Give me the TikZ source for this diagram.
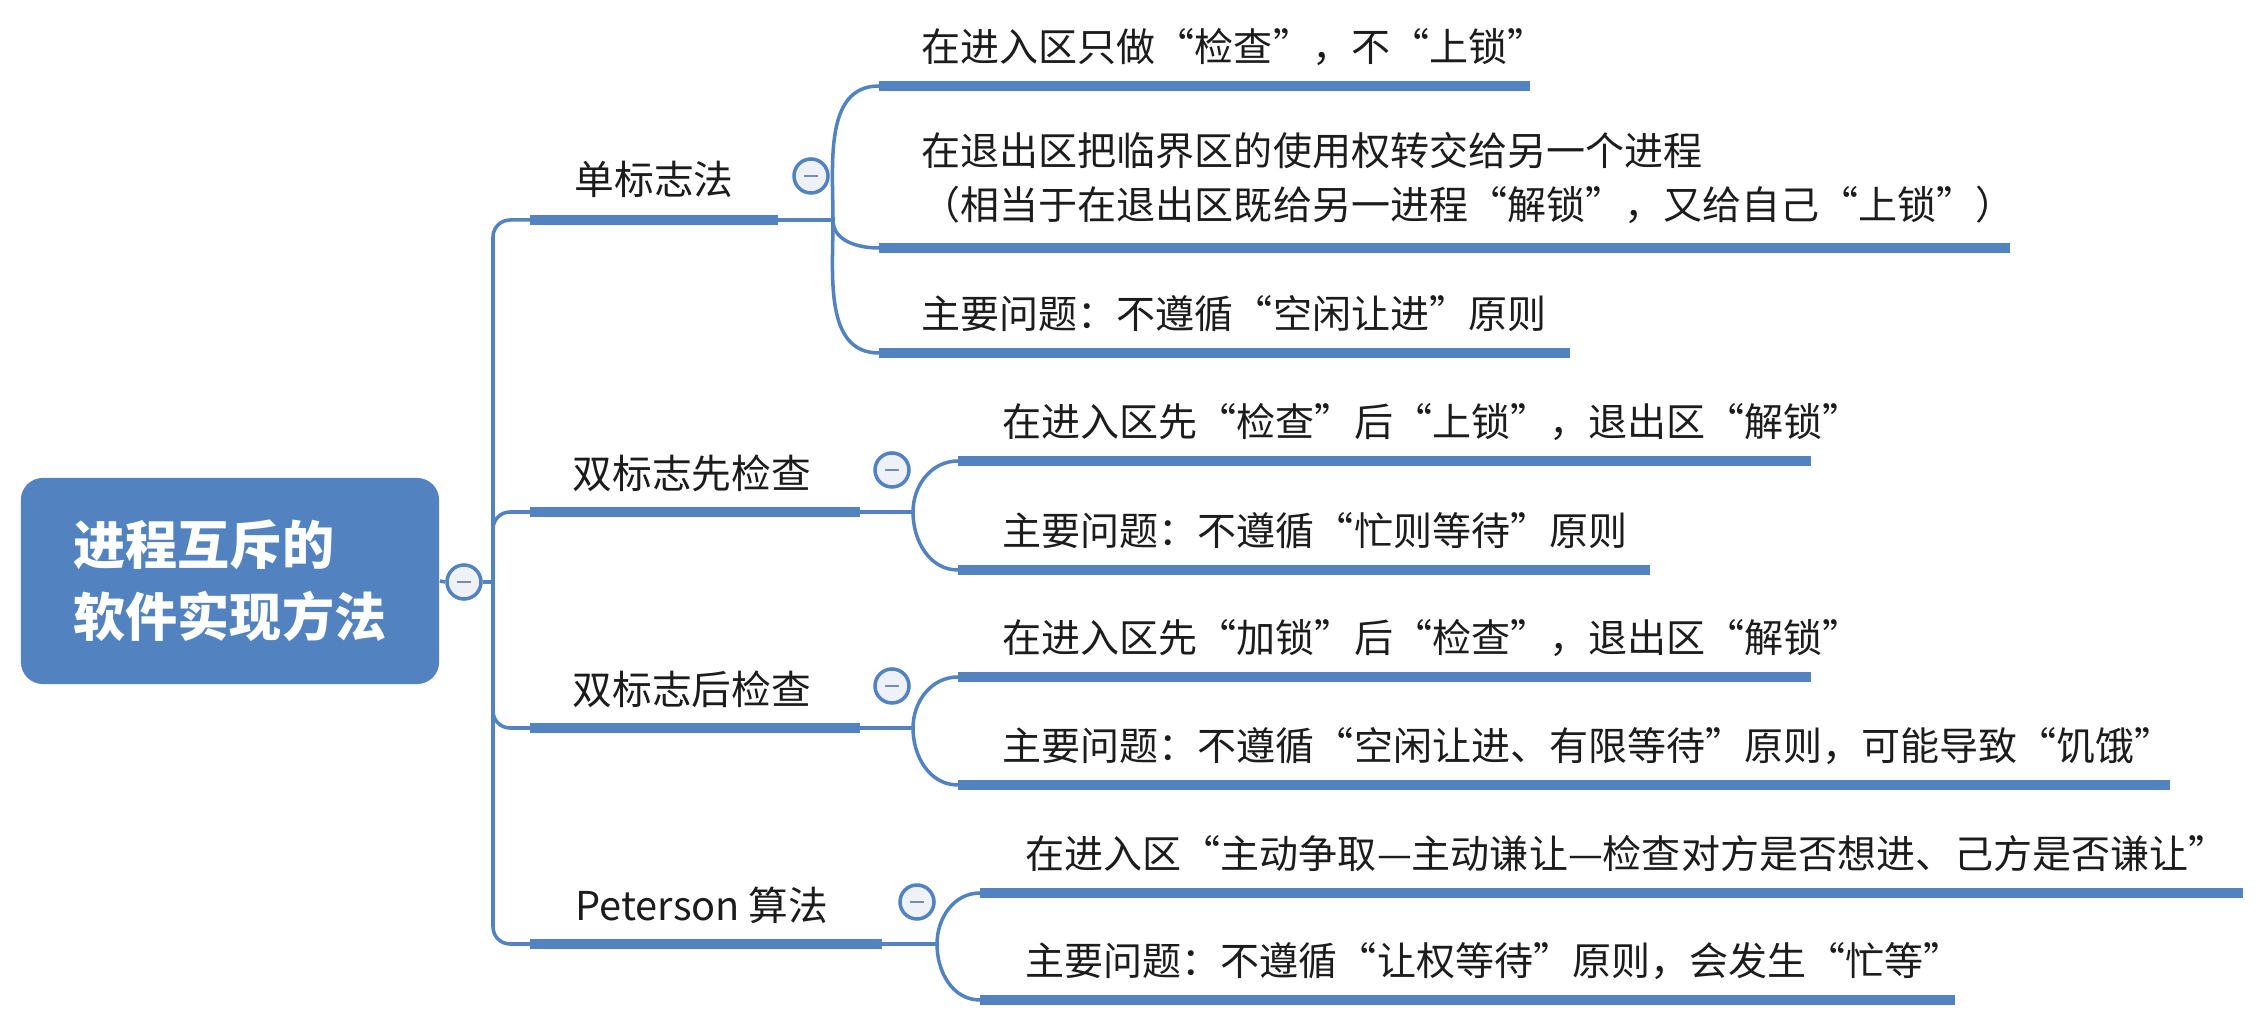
\documentclass[tikz,border=0pt]{standalone}
\usepackage{fontspec}
\setmainfont{Noto Sans CJK SC}
\usetikzlibrary{positioning}

\definecolor{mapblue}{RGB}{82,131,192}
\definecolor{knobfill}{RGB}{238,242,248}
\definecolor{knobdash}{RGB}{120,140,170}
\definecolor{inkgray}{RGB}{28,28,28}

\tikzset{
  link/.style={draw=mapblue, line width=1pt},
  bar/.style={draw=mapblue, line width=2.6pt},
  knob/.style={circle, draw=mapblue, fill=knobfill, line width=1pt, minimum size=0.34cm, inner sep=0pt,
    path picture={\draw[knobdash, line width=0.8pt] ([xshift=-0.07cm]path picture bounding box.center) -- ([xshift=0.07cm]path picture bounding box.center);}},
  root/.style={rectangle, rounded corners=0.22cm, fill=mapblue, text=white, minimum width=4.18cm, minimum height=2.06cm,
    align=left, font=\fontsize{14.8pt}{20.5pt}\selectfont\bfseries},
  branch/.style={anchor=west, inner sep=0pt, text=inkgray, font=\fontsize{11.3pt}{15pt}\selectfont},
  leaf/.style={anchor=west, inner sep=0pt, text=inkgray, align=left, font=\fontsize{11.1pt}{15.1pt}\selectfont},
}

\begin{document}
\begin{tikzpicture}[x=0.01cm, y=-0.01cm]
\useasboundingbox (0,0) rectangle (2259,1025);

% root and hub
\node[root] (root) at (230,581) {进程互斥的\\软件实现方法};
\node[knob] (hub) at (464,582) {};
\coordinate (spine) at (493,582);
\draw[link] (root.east) -- (hub.west);
\draw[link] (hub.east) -- (spine);

% branch points
\coordinate (s1) at (530,220); \coordinate (e1) at (778,220); \coordinate (f1) at (833,220);
\coordinate (s2) at (530,512); \coordinate (e2) at (860,512); \coordinate (f2) at (913,512);
\coordinate (s3) at (530,728); \coordinate (e3) at (860,728); \coordinate (f3) at (913,728);
\coordinate (s4) at (530,944); \coordinate (e4) at (882,944); \coordinate (f4) at (937,944);

\draw[link, rounded corners=0.17cm] (spine) |- (s1);
\draw[link, rounded corners=0.17cm] (spine) |- (s2);
\draw[link, rounded corners=0.17cm] (spine) |- (s3);
\draw[link, rounded corners=0.17cm] (spine) |- (s4);
\draw[bar] (s1) -- (e1); \draw[link] (e1) -- (f1);
\draw[bar] (s2) -- (e2); \draw[link] (e2) -- (f2);
\draw[bar] (s3) -- (e3); \draw[link] (e3) -- (f3);
\draw[bar] (s4) -- (e4); \draw[link] (e4) -- (f4);

\node[branch] (b1) at (574,179) {单标志法};
\node[branch] (b2) at (572,473) {双标志先检查};
\node[branch] (b3) at (572,689) {双标志后检查};
\node[branch] (b4) at (575,905) {Peterson 算法};

\node[knob] (k1) at (811,176) {};
\node[knob] (k2) at (892,470) {};
\node[knob] (k3) at (892,686) {};
\node[knob] (k4) at (917,902) {};

% leaves of 单标志法
\coordinate (a11) at (879,86);  \coordinate (z11) at (1530,86);
\coordinate (a12) at (879,248); \coordinate (z12) at (2010,248);
\coordinate (a13) at (879,353); \coordinate (z13) at (1570,353);
\draw[link] (f1) to[out=90,in=180] (a11);
\draw[link] (f1) to[out=-90,in=180] (a12);
\draw[link] (f1) to[out=-90,in=180] (a13);
\draw[bar] (a11) -- (z11);
\draw[bar] (a12) -- (z12);
\draw[bar] (a13) -- (z13);
\node[leaf] (t11) at (921,47) {在进入区只做“检查”，不“上锁”};
\node[leaf] (t12) at (921,178) {在退出区把临界区的使用权转交给另一个进程\\（相当于在退出区既给另一进程“解锁”，又给自己“上锁”）};
\node[leaf] (t13) at (921,314) {主要问题：不遵循“空闲让进”原则};

% leaves of 双标志先检查
\coordinate (a21) at (958,461); \coordinate (z21) at (1811,461);
\coordinate (a22) at (958,570); \coordinate (z22) at (1650,570);
\draw[link] (f2) to[out=90,in=180] (a21);
\draw[link] (f2) to[out=-90,in=180] (a22);
\draw[bar] (a21) -- (z21);
\draw[bar] (a22) -- (z22);
\node[leaf] (t21) at (1002,422) {在进入区先“检查”后“上锁”，退出区“解锁”};
\node[leaf] (t22) at (1002,531) {主要问题：不遵循“忙则等待”原则};

% leaves of 双标志后检查
\coordinate (a31) at (958,677); \coordinate (z31) at (1811,677);
\coordinate (a32) at (958,785); \coordinate (z32) at (2170,785);
\draw[link] (f3) to[out=90,in=180] (a31);
\draw[link] (f3) to[out=-90,in=180] (a32);
\draw[bar] (a31) -- (z31);
\draw[bar] (a32) -- (z32);
\node[leaf] (t31) at (1002,638) {在进入区先“加锁”后“检查”，退出区“解锁”};
\node[leaf] (t32) at (1002,746) {主要问题：不遵循“空闲让进、有限等待”原则，可能导致“饥饿”};

% leaves of Peterson 算法
\coordinate (a41) at (980,893);  \coordinate (z41) at (2243,893);
\coordinate (a42) at (980,1000); \coordinate (z42) at (1955,1000);
\draw[link] (f4) to[out=90,in=180] (a41);
\draw[link] (f4) to[out=-90,in=180] (a42);
\draw[bar] (a41) -- (z41);
\draw[bar] (a42) -- (z42);
\node[leaf] (t41) at (1025,854) {在进入区“主动争取—主动谦让—检查对方是否想进、己方是否谦让”};
\node[leaf] (t42) at (1025,961) {主要问题：不遵循“让权等待”原则，会发生“忙等”};
\end{tikzpicture}
\end{document}
